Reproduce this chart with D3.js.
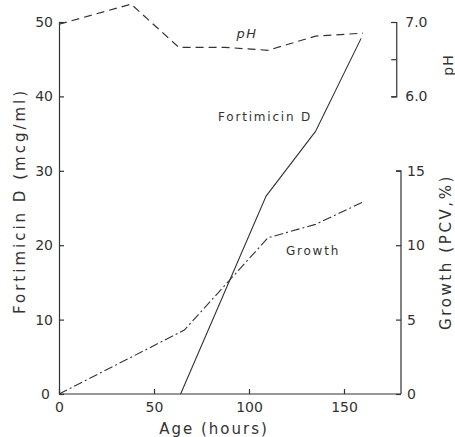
<!DOCTYPE html>
<html>
<head>
<meta charset="utf-8">
<script src="https://cdn.jsdelivr.net/npm/d3@7"></script>
<style>
  body { margin: 0; background: #fff; }
  text { font-family: "DejaVu Sans", sans-serif; fill: #333; }
</style>
</head>
<body>
<script>
// age (hours) for each series
var phAge = [0, 38, 63, 87, 110, 135, 160];
var phValues = [6.97, 7.24, 6.66, 6.66, 6.62, 6.81, 6.85];

var fortAge = [64, 109, 135, 159];
var fortValues = [0, 26.6, 35.3, 47.8];

var growthAge = [0, 66, 110, 135, 160];
var growthValues = [0, 4.3, 10.5, 11.4, 12.9];

var xTicks = [0, 50, 100, 150];
var fortTicks = [0, 10, 20, 30, 40, 50];
var phTicks = [6, 6.5, 7];
var growthTicks = [0, 5, 10, 15];

var w = 455;
var h = 437;
var ink = "#333";

var svg = d3.select("body")
    .append("svg")
    .attr("width", w)
    .attr("height", h);

var x = d3.scaleLinear().domain([0, 180]).range([59, 401]);
var y = d3.scaleLinear().domain([0, 50]).range([394, 22]);
// pH 6.0 -> 40 mcg, 7.0 -> 50 mcg on the left scale
var yPH = d3.scaleLinear().domain([6, 7]).range([y(40), y(50)]);
// growth 15 % -> 30 mcg
var yG = d3.scaleLinear().domain([0, 15]).range([y(0), y(30)]);

function styleAxis(g) {
  g.selectAll("path, line").attr("stroke", ink).attr("stroke-width", 1.2);
  g.selectAll("text")
    .attr("font-family", "DejaVu Sans, sans-serif")
    .attr("font-size", "14px")
    .attr("fill", ink);
}

// left axis
var gLeft = svg.append("g")
    .attr("transform", "translate(" + x(0) + ",0)")
    .call(d3.axisLeft(y).tickValues(fortTicks).tickSizeInner(-5).tickSizeOuter(0).tickPadding(6));
styleAxis(gLeft);
gLeft.selectAll(".tick").filter(function(d) { return d === 0; }).select("text").attr("x", -9);

// bottom axis
var gBottom = svg.append("g")
    .attr("transform", "translate(0," + y(0) + ")")
    .call(d3.axisBottom(x).tickValues(xTicks).tickSizeInner(-5).tickSizeOuter(0).tickPadding(8));
styleAxis(gBottom);
gBottom.select(".domain").attr("d", "M" + x(0) + ",0H" + x(180));

// pH axis
var gPH = svg.append("g")
    .attr("transform", "translate(" + x(177.5) + ",0)")
    .call(d3.axisRight(yPH).tickValues(phTicks).tickSizeInner(-5).tickSizeOuter(-5).tickPadding(9)
      .tickFormat(function(d) { return d === 6.5 ? "" : d3.format(".1f")(d); }));
styleAxis(gPH);

// growth axis
var gG = svg.append("g")
    .attr("transform", "translate(" + x(180) + ",0)")
    .call(d3.axisRight(yG).tickValues(growthTicks).tickSizeInner(-5).tickSizeOuter(-5).tickPadding(6));
styleAxis(gG);
gG.select(".domain").attr("d", "M-5," + yG(15) + "H0V" + yG(0));

// lines
var phLine = d3.line()
    .x(function(d, i) { return x(phAge[i]); })
    .y(function(d) { return yPH(d); });
svg.append("path")
    .attr("d", phLine(phValues))
    .attr("fill", "none")
    .attr("stroke", ink)
    .attr("stroke-width", 1.2)
    .attr("stroke-dasharray", "8,5");

var fortLine = d3.line()
    .x(function(d, i) { return x(fortAge[i]); })
    .y(function(d) { return y(d); });
svg.append("path")
    .attr("d", fortLine(fortValues))
    .attr("fill", "none")
    .attr("stroke", ink)
    .attr("stroke-width", 1.1);

var growthLine = d3.line()
    .x(function(d, i) { return x(growthAge[i]); })
    .y(function(d) { return yG(d); });
svg.append("path")
    .attr("d", growthLine(growthValues))
    .attr("fill", "none")
    .attr("stroke", ink)
    .attr("stroke-width", 1.1)
    .attr("stroke-dasharray", "9,3,2,3");

// series labels
svg.append("text").text("pH")
    .attr("x", 247).attr("y", 38)
    .attr("text-anchor", "middle")
    .attr("fill", ink)
    .attr("font-size", "13px")
    .attr("font-style", "italic")
    .attr("letter-spacing", "1.5px");

svg.append("text").text("Fortimicin D")
    .attr("x", 265).attr("y", 121)
    .attr("text-anchor", "middle")
    .attr("fill", ink)
    .attr("font-size", "12px")
    .attr("letter-spacing", "1.8px");

svg.append("text").text("Growth")
    .attr("x", 313).attr("y", 255)
    .attr("text-anchor", "middle")
    .attr("fill", ink)
    .attr("font-size", "12px")
    .attr("letter-spacing", "1.8px");

// axis titles
svg.append("text").text("Fortimicin D (mcg/ml)")
    .attr("transform", "translate(25,201) rotate(-90)")
    .attr("text-anchor", "middle")
    .attr("fill", ink)
    .attr("font-size", "15px")
    .attr("letter-spacing", "3px");

svg.append("text").text("Age (hours)")
    .attr("x", 214).attr("y", 434)
    .attr("text-anchor", "middle")
    .attr("fill", ink)
    .attr("font-size", "15px")
    .attr("letter-spacing", "2px");

svg.append("text").text("pH")
    .attr("transform", "translate(453,65) rotate(-90)")
    .attr("text-anchor", "middle")
    .attr("fill", ink)
    .attr("font-size", "14px")
    .attr("letter-spacing", "1px");

svg.append("text").text("Growth (PCV,%)")
    .attr("transform", "translate(451,252) rotate(-90)")
    .attr("text-anchor", "middle")
    .attr("fill", ink)
    .attr("font-size", "15px")
    .attr("letter-spacing", "2.6px");
</script>
</body>
</html>
